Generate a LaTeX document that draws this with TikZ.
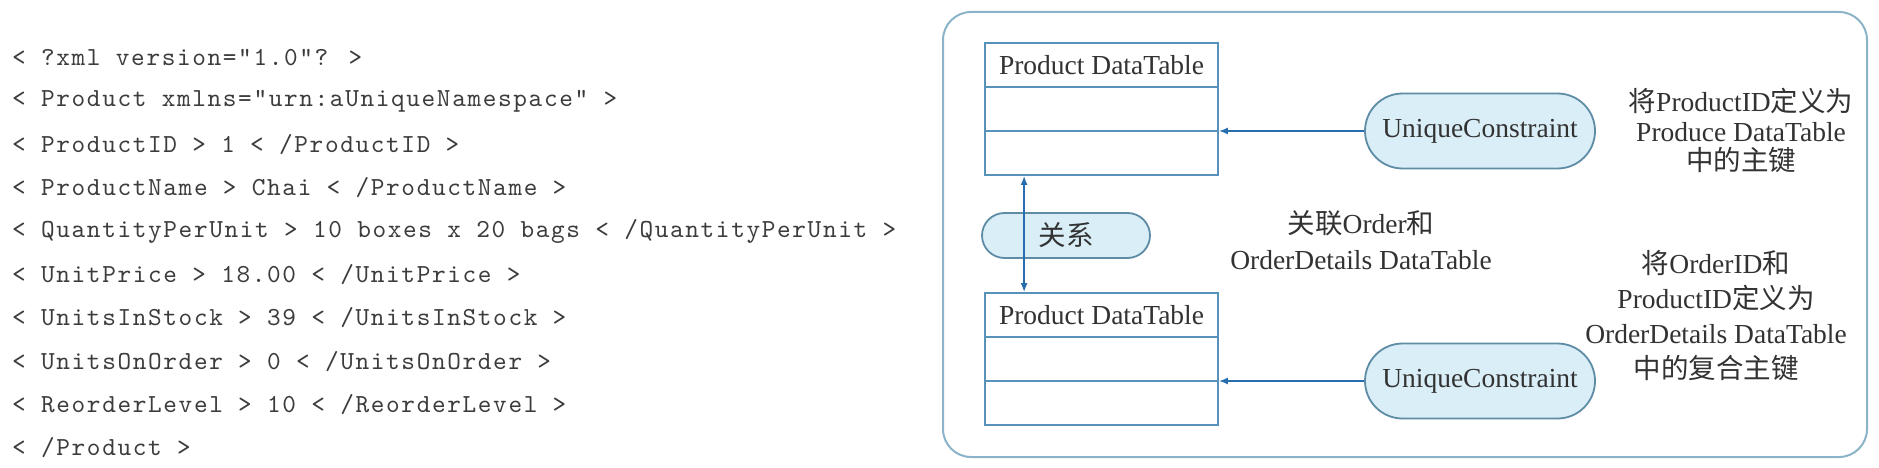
\documentclass[tikz,border=0pt]{standalone}
\usepackage{fontspec}
\setmainfont{Liberation Serif}
\newfontfamily\cjk{Noto Sans CJK SC}
\newfontfamily\xmlfont[LetterSpace=6.3]{lmmono10-regular.otf}
\usetikzlibrary{arrows.meta}
\definecolor{tableblue}{RGB}{86,146,186}
\definecolor{arrowblue}{RGB}{40,110,175}
\definecolor{pillfill}{RGB}{218,238,247}
\definecolor{pillborder}{RGB}{95,140,165}
\definecolor{outerborder}{RGB}{140,180,200}
\definecolor{txt}{RGB}{50,50,50}
\definecolor{xmltext}{RGB}{60,60,60}
\begin{document}
\begin{tikzpicture}[x=1pt,y=-1pt,
  xmlline/.style={anchor=west, inner sep=0pt, font=\xmlfont\fontsize{26}{30}\selectfont, text=xmltext},
  cell/.style={draw=tableblue, line width=1.8pt, minimum width=233pt, minimum height=44pt, inner sep=0pt, font=\fontsize{27.5}{30}\selectfont, text=txt},
  pill/.style={draw=pillborder, fill=pillfill, line width=1.8pt, rounded corners=#1, minimum height=2*#1, inner sep=0pt, font=\fontsize{27.5}{30}\selectfont, text=txt},
  link/.style={draw=arrowblue, line width=1.6pt, -{Latex[length=9pt,width=7pt]}},
  dlink/.style={draw=arrowblue, line width=1.6pt, {Latex[length=9pt,width=7pt]}-{Latex[length=9pt,width=7pt]}},
  note/.style={align=center, inner sep=0pt, text=txt}
]
\useasboundingbox (0,0) rectangle (1879,468);
\fill[white] (0,0) rectangle (1879,468);

% XML listing
\node[xmlline] (x1) at (12,58) {< ?xml version="1.0"? >};
\node[xmlline] (x2) at (12,101.3) {< Product xmlns="urn:aUniqueNamespace" >};
\node[xmlline] (x3) at (12,144.6) {< ProductID > 1 < /ProductID >};
\node[xmlline] (x4) at (12,187.9) {< ProductName > Chai < /ProductName >};
\node[xmlline] (x5) at (12,231.2) {< QuantityPerUnit > 10 boxes x 20 bags < /QuantityPerUnit >};
\node[xmlline] (x6) at (12,274.5) {< UnitPrice > 18.00 < /UnitPrice >};
\node[xmlline] (x7) at (12,317.8) {< UnitsInStock > 39 < /UnitsInStock >};
\node[xmlline] (x8) at (12,361.1) {< UnitsOnOrder > 0 < /UnitsOnOrder >};
\node[xmlline] (x9) at (12,404.4) {< ReorderLevel > 10 < /ReorderLevel >};
\node[xmlline] (x10) at (12,447.7) {< /Product >};

% outer frame
\draw[draw=outerborder, line width=2pt, rounded corners=28pt] (943,12) rectangle (1867,457);

% top table
\node[cell] (tAh) at (1101.5,65) {Product DataTable};
\node[cell] (tA1) at (1101.5,109) {};
\node[cell] (tA2) at (1101.5,153) {};

% bottom table
\node[cell] (tBh) at (1101.5,315) {Product DataTable};
\node[cell] (tB1) at (1101.5,359) {};
\node[cell] (tB2) at (1101.5,403) {};

% relation pill
\node[pill=22.5pt, minimum width=168pt] (rel) at (1066,235.5) {\cjk 关系};

% unique constraint pills
\node[pill=37.5pt, minimum width=230pt] (ucA) at (1480,131) {UniqueConstraint};
\node[pill=37.5pt, minimum width=230pt] (ucB) at (1480,381) {UniqueConstraint};

% arrows
\draw[link] (ucA.west) -- (ucA.west -| tA2.north east);
\draw[link] (ucB.west) -- (ucB.west -| tB2.north east);
\draw[dlink] ([xshift=40pt]tA2.south west) -- ([xshift=40pt]tBh.north west);

% notes
\node[note, font=\fontsize{27.5}{29.5}\selectfont] (nA) at (1741,131)
  {{\cjk 将}ProductID{\cjk 定义为}\\Produce DataTable\\{\cjk 中的主键}};
\node[note, font=\fontsize{27.5}{36}\selectfont] (nM) at (1361,240)
  {{\cjk 关联}Order{\cjk 和}\\OrderDetails DataTable};
\node[note, font=\fontsize{27.5}{35}\selectfont] (nB) at (1716,316)
  {{\cjk 将}OrderID{\cjk 和}\\ProductID{\cjk 定义为}\\OrderDetails DataTable\\{\cjk 中的复合主键}};
\end{tikzpicture}
\end{document}
